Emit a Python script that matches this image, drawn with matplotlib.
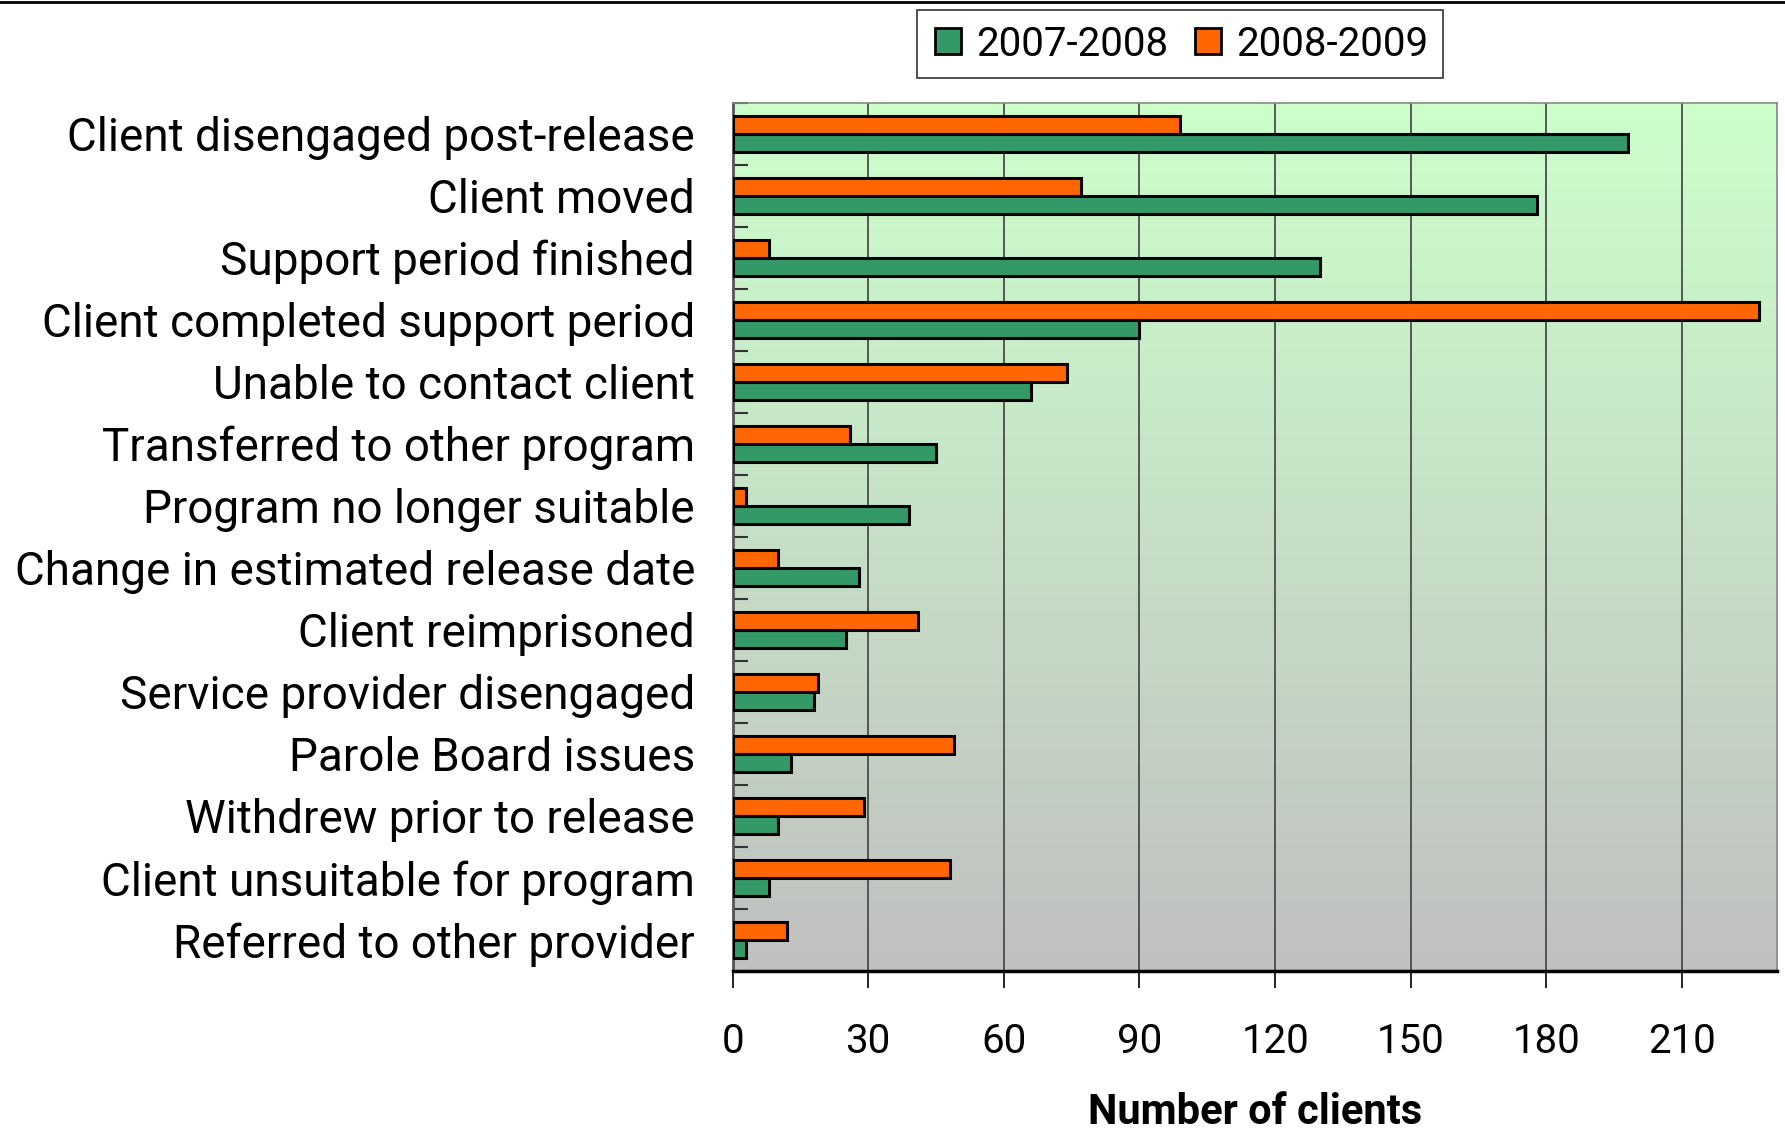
import numpy as np
import matplotlib
matplotlib.use("Agg")
import matplotlib.pyplot as plt
from matplotlib.colors import LinearSegmentedColormap
from matplotlib.lines import Line2D

categories = [
    "Client disengaged post-release",
    "Client moved",
    "Support period finished",
    "Client completed support period",
    "Unable to contact client",
    "Transferred to other program",
    "Program no longer suitable",
    "Change in estimated release date",
    "Client reimprisoned",
    "Service provider disengaged",
    "Parole Board issues",
    "Withdrew prior to release",
    "Client unsuitable for program",
    "Referred to other provider",
]
series_names = ["2007-2008", "2008-2009"]
values_2007_2008 = [198, 178, 130, 90, 66, 45, 39, 28, 25, 18, 13, 10, 8, 3]
values_2008_2009 = [99, 77, 8, 227, 74, 26, 3, 10, 41, 19, 49, 29, 48, 12]
x_ticks = [0, 30, 60, 90, 120, 150, 180, 210]

GREEN = "#339966"
ORANGE = "#FF6600"
FONT = ["Roboto", "Liberation Sans", "DejaVu Sans"]
plt.rcParams["font.family"] = FONT

fig = plt.figure(figsize=(17.85, 11.33), dpi=100)
ax = fig.add_axes([0.4104, 0.1430, 0.9955 - 0.4104, 0.9095 - 0.1430])

n = len(categories)
y = np.arange(n)
h = 0.29

# gradient background
cmap = LinearSegmentedColormap.from_list("bg", ["#CCFFCC", "#C0C0C0"])
grad = np.linspace(0, 1, 256).reshape(-1, 1)
ax.imshow(grad, cmap=cmap, aspect="auto", extent=[0, 1, 0, 1],
          transform=ax.transAxes, zorder=0, origin="upper")

ax.barh(y - h / 2, values_2008_2009, height=h, color=ORANGE,
        edgecolor="black", linewidth=2.2, zorder=3, label=series_names[1])
ax.barh(y + h / 2, values_2007_2008, height=h, color=GREEN,
        edgecolor="black", linewidth=2.2, zorder=3, label=series_names[0])

ax.set_xlim(0, 231)
ax.set_ylim(n - 0.5, -0.5)
ax.set_xticks(x_ticks)
ax.set_xticklabels([str(t) for t in x_ticks], fontsize=29)
ax.set_yticks(y)
ax.set_yticklabels(categories, fontsize=33)
ax.set_yticks(np.arange(-0.5, n, 1.0), minor=True)
ax.tick_params(axis="y", which="major", length=0, pad=27)
ax.tick_params(axis="y", which="minor", direction="in", length=11, width=1.5, color="#333333")
ax.tick_params(axis="x", which="major", direction="out", length=12, width=1.2, pad=25)

ax.grid(axis="x", color="#404040", linewidth=1.2, zorder=1)
ax.set_axisbelow(True)

for s in ["top", "right"]:
    ax.spines[s].set_color("#888888")
    ax.spines[s].set_linewidth(1.2)
ax.spines["left"].set_color("#555555")
ax.spines["left"].set_linewidth(2)
ax.spines["bottom"].set_color("black")
ax.spines["bottom"].set_linewidth(2.5)

ax.set_xlabel("Number of clients", fontsize=30, fontweight="bold", labelpad=22)

handles = [
    Line2D([0], [0], marker="s", linestyle="none", markersize=19,
           markerfacecolor=GREEN, markeredgecolor="black", markeredgewidth=2),
    Line2D([0], [0], marker="s", linestyle="none", markersize=19,
           markerfacecolor=ORANGE, markeredgecolor="black", markeredgewidth=2),
]
leg = fig.legend(handles, series_names, loc="center", bbox_to_anchor=(1180 / 1785, 1 - 44 / 1133),
                 ncol=2, fontsize=29, frameon=True, fancybox=False, edgecolor="black",
                 handlelength=0.8, handletextpad=0.3, columnspacing=0.6,
                 borderpad=0.35)
leg.get_frame().set_linewidth(1.2)

fig.add_artist(Line2D([0, 1], [0.998, 0.998], transform=fig.transFigure, color="black", linewidth=2))

fig.savefig("out.png", dpi=100)
